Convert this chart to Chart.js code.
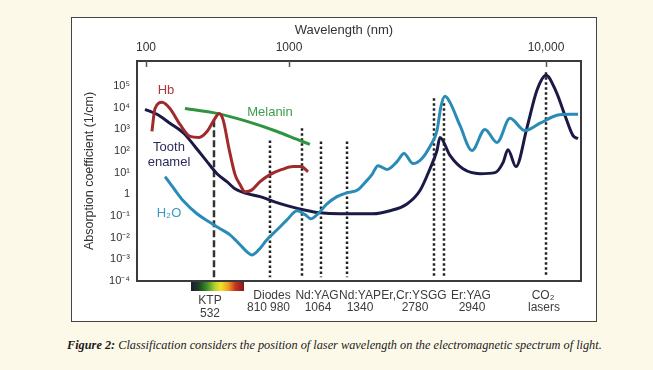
<!DOCTYPE html>
<html>
<head>
<meta charset="utf-8">
<script src="https://cdn.jsdelivr.net/npm/chart.js@4/dist/chart.umd.min.js"></script>
<style>
html,body{margin:0;padding:0;background:#fdf9e9;width:653px;height:370px;overflow:hidden;}
#panel{position:absolute;left:71px;top:17px;width:524px;height:303px;border:1px solid #444;background:#fff;}
#panel canvas{display:block;}
#caption{position:absolute;left:67px;top:338px;font:italic 12.3px "Liberation Serif",serif;color:#1a1a1a;white-space:nowrap;}
</style>
</head>
<body>
<div id="panel"><canvas id="c" width="524" height="303"></canvas></div>
<div id="caption"><b>Figure 2:</b> Classification considers the position of laser wavelength on the electromagnetic spectrum of light.</div>
<script>
// ---------------- data (wavelength in nm, absorption coefficient in 1/cm) ----------------
const hbWavelength = [120, 132, 164, 209, 285, 388, 442, 488, 537, 557, 578, 610, 645, 675, 704, 732, 766, 810, 870, 930, 975, 1006];
const hbAbs        = [8e2, 9.1e3, 1.74e4, 9.1e3, 1.66e3, 4.7e2, 4.2e2, 7.9e2, 3.2e3, 5.4e3, 2.8e3, 1.3e2, 8.1, 2.8, 1.3, 1.6, 3.8, 8.1, 14, 19, 19, 11];

const melaninWavelength = [332, 547, 712, 845, 952, 1014];
const melaninAbs        = [9.1e3, 5.4e3, 2.3e3, 7.9e2, 3.4e2, 2.0e2];

const enamelWavelength = [97, 140, 209, 322, 420, 488, 547, 599, 644, 712, 766, 829, 896, 984, 1059, 1259, 1666, 1922, 2216, 2472, 2687, 2827, 2875, 3170, 3733, 4623, 5582, 6175, 6572, 7263, 8347, 9459, 10600, 11922, 13410, 14560, 15440];
const enamelAbs        = [8.3e3, 4.9e3, 1.9e3, 6.4e2, 1.6e2, 32, 8.9, 3.8, 1.8, 1.07, 0.78, 0.46, 0.30, 0.195, 0.14, 0.126, 0.126, 0.174, 0.36, 1.5, 15, 105, 420, 62, 15, 8.9, 10, 29, 115, 19, 1.2e3, 6.3e4, 3.1e5, 5.6e4, 3.2e3, 5.1e2, 3.7e2];

const waterWavelength = [180, 237, 322, 431, 500, 562, 616, 675, 712, 732, 761, 796, 845, 896, 952, 993, 1019, 1050, 1122, 1226, 1340, 1469, 1559, 1652, 1738, 1874, 2038, 2161, 2331, 2514, 2687, 2827, 2891, 2977, 3170, 3594, 4181, 4920, 5725, 6738, 8140, 9828, 12064, 14059, 15440];
const waterAbs        = [6.5, 1.8, 0.46, 0.126, 0.054, 0.026, 0.0135, 0.0047, 0.0022, 0.0016, 0.0028, 0.0080, 0.023, 0.066, 0.174, 0.115, 0.074, 0.126, 0.36, 0.78, 1.17, 1.6, 3.5, 8.1, 21, 14, 32, 76, 26, 45, 160, 870, 1.15e4, 3.3e4, 1.74e4, 1.5e3, 105, 980, 245, 3.2e3, 870, 1.9e3, 4.4e3, 4.9e3, 4.9e3];

const laserWavelength = [532, 810, 980, 1064, 1340, 2780, 2940, 10600];
const laserTop        = [2.6e3, 3.0e2, 1.1e3, 2.7e2, 2.7e2, 2.7e4, 1.6e4, 4.3e5];
const laserBottom     = [1e-4, 1.5e-4, 1.5e-4, 1.5e-4, 1.5e-4, 1.5e-4, 1.5e-4, 1.5e-4];

const spectrumBand = [400, 700];

const yTickValues = [1e-4, 1e-3, 1e-2, 1e-1, 1, 1e1, 1e2, 1e3, 1e4, 1e5];
const yTickLabels = ['10\u207B\u2074', '10\u207B\u00B3', '10\u207B\u00B2', '10\u207B\u00B9', '1', '10\u00B9', '10\u00B2', '10\u00B3', '10\u2074', '10\u2075'];
const topTickValues = [100, 1000, 10000];
const topTickLabels = ['100', '1000', '10,000'];

const curveLabelText = ['Hb', 'Melanin', 'Tooth', 'enamel', 'H\u2082O'];
const curveLabelNm   = [185, 810, 203, 203, 203];
const curveLabelAbs  = [6.3e4, 6.0e3, 145, 29, 0.126];

const laserNameText = ['KTP', 'Diodes', 'Nd:YAG', 'Nd:YAP', 'Er,Cr:YSGG', 'Er:YAG', 'CO\u2082'];
const laserNameNm   = [532, 810, 1064, 1340, 2780, 2940, 10600];
const laserCodeText = ['532', '810', '980', '1064', '1340', '2780', '2940', 'lasers'];
const laserCodeNm   = [532, 810, 980, 1064, 1340, 2780, 2940, 10600];

// ---------------- layout / style ----------------
const dataAxisKnots = [[76, 0], [100, 0.0203], [400, 0.1216], [532, 0.1734], [700, 0.2410], [810, 0.2995], [980, 0.3716], [1064, 0.4144], [1340, 0.4730], [2780, 0.6689], [2940, 0.6914], [10600, 0.9212], [16000, 1]];
const topAxisKnots  = [[86.5, 0], [100, 0.0203], [1000, 0.3423], [10000, 0.9212], [13680, 1]];
const curveLabelColor = ['#b03838', '#3d9c4c', '#2b2b5a', '#2b2b5a', '#3a98c4'];
const laserNameDx = [-4, 2, -4, 13, -20, 27, -3];
const laserNameDy = [20, 15, 15, 15, 15, 15, 15];
const laserCodeDx = [-4, -13, -22, -3, 13, -19, 28, -2];
const laserCodeDy = [33, 27, 27, 27, 27, 27, 27, 27];
const spectrumStops = [[0, '#1d1b3a'], [0.14, '#1f3d1f'], [0.3, '#3c8f2c'], [0.45, '#b4cf33'], [0.56, '#f2e227'], [0.7, '#eea024'], [0.84, '#c8331f'], [1, '#7e1a1c']];

// ---------------- schematic wavelength scale ----------------
class SchematicScale extends Chart.LogarithmicScale {
  static id = 'schematic';
  static defaults = { ticks: { callback: (v) => String(v) } };
  buildTicks() {
    return (this.options.tickValues || []).map(v => ({ value: v }));
  }
  _frac(value) {
    const k = this.options.knots;
    const lv = Math.log10(value);
    let i = 0;
    while (i < k.length - 2 && lv > Math.log10(k[i + 1][0])) i++;
    const a = Math.log10(k[i][0]), b = Math.log10(k[i + 1][0]);
    return k[i][1] + (lv - a) / (b - a) * (k[i + 1][1] - k[i][1]);
  }
  getPixelForValue(value) {
    if (value === undefined || value === null || !(value > 0)) value = this.min;
    return this.getPixelForDecimal(this._frac(value));
  }
  getValueForPixel(pixel) {
    const f = this.getDecimalForPixel(pixel);
    const k = this.options.knots;
    let i = 0;
    while (i < k.length - 2 && f > k[i + 1][1]) i++;
    const a = Math.log10(k[i][0]), b = Math.log10(k[i + 1][0]);
    return Math.pow(10, a + (f - k[i][1]) / (k[i + 1][1] - k[i][1]) * (b - a));
  }
}
Chart.register(SchematicScale);

const zip = (xs, ys) => xs.map((x, i) => ({ x: x, y: ys[i] }));

const curve = (label, xs, ys, color) => ({
  label: label, data: zip(xs, ys), borderColor: color, borderWidth: 3,
  pointRadius: 0, fill: false, cubicInterpolationMode: 'monotone'
});

const datasets = [
  curve('Hb', hbWavelength, hbAbs, '#a02a2c'),
  curve('Melanin', melaninWavelength, melaninAbs, '#2f9440'),
  curve('H2O', waterWavelength, waterAbs, '#2a8cb6'),
  curve('Tooth enamel', enamelWavelength, enamelAbs, '#1b1a46')
];
laserWavelength.forEach((w, i) => {
  const ktp = i === 0;
  datasets.push({
    label: 'laser ' + w,
    data: [{ x: w, y: laserTop[i] }, { x: w, y: laserBottom[i] }],
    borderColor: ktp ? '#333' : '#222',
    borderWidth: 2.5,
    borderDash: ktp ? [7, 3] : [2.5, 2.5],
    borderCapStyle: 'butt',
    pointRadius: 0, fill: false
  });
});

const FONT = '"Liberation Sans", Arial, sans-serif';

const decor = {
  id: 'decor',
  afterDatasetsDraw(chart) {
    const { ctx, chartArea: a, scales } = chart;
    const x = scales.x, y = scales.y, xt = scales.xTop;
    ctx.save();
    // visible-spectrum colour bar under KTP
    const x0 = x.getPixelForValue(spectrumBand[0]), x1 = x.getPixelForValue(spectrumBand[1]);
    const g = ctx.createLinearGradient(x0, 0, x1, 0);
    spectrumStops.forEach(s => g.addColorStop(s[0], s[1]));
    ctx.fillStyle = g;
    ctx.fillRect(x0, a.bottom + 1, x1 - x0, 9);
    // frame
    ctx.strokeStyle = '#3a3a3a';
    ctx.lineWidth = 2;
    ctx.strokeRect(a.left, a.top, a.width, a.height);
    // inner tick marks of the top axis
    ctx.lineWidth = 1.5;
    ctx.strokeStyle = '#555';
    xt.ticks.forEach(t => {
      const px = Math.round(xt.getPixelForValue(t.value)) + 0.5;
      ctx.beginPath(); ctx.moveTo(px, a.top); ctx.lineTo(px, a.top + 6); ctx.stroke();
    });
    // axis title (top)
    ctx.textAlign = 'center';
    ctx.textBaseline = 'middle';
    ctx.fillStyle = '#333';
    ctx.font = '13px ' + FONT;
    ctx.fillText('Wavelength (nm)', a.left + a.width * 0.466, 12);
    // curve labels
    ctx.font = '13px ' + FONT;
    curveLabelText.forEach((t, i) => {
      ctx.fillStyle = curveLabelColor[i];
      ctx.fillText(t, x.getPixelForValue(curveLabelNm[i]), y.getPixelForValue(curveLabelAbs[i]));
    });
    // laser names and wavelengths
    ctx.fillStyle = '#3c3c3c';
    ctx.font = '12px ' + FONT;
    laserNameText.forEach((t, i) => {
      ctx.fillText(t, x.getPixelForValue(laserNameNm[i]) + laserNameDx[i], a.bottom + laserNameDy[i]);
    });
    laserCodeText.forEach((t, i) => {
      ctx.fillText(t, x.getPixelForValue(laserCodeNm[i]) + laserCodeDx[i], a.bottom + laserCodeDy[i]);
    });
    ctx.restore();
  }
};

new Chart(document.getElementById('c'), {
  type: 'line',
  data: { datasets: datasets },
  plugins: [decor],
  options: {
    responsive: false,
    animation: false,
    devicePixelRatio: 1,
    layout: { padding: { top: 0, left: 0, right: 15, bottom: 40 } },
    plugins: { legend: { display: false }, tooltip: { enabled: false } },
    scales: {
      x: {
        type: 'schematic', position: 'bottom', display: false,
        min: 76, max: 16000, knots: dataAxisKnots, tickValues: topTickValues
      },
      xTop: {
        type: 'schematic', position: 'top', axis: 'x',
        min: 86.5, max: 13680, knots: topAxisKnots, tickValues: topTickValues,
        grid: { display: false, drawTicks: false },
        border: { display: false },
        ticks: {
          autoSkip: false, maxRotation: 0, padding: 6, color: '#333',
          font: { family: FONT, size: 12 },
          callback: (v) => topTickLabels[topTickValues.indexOf(v)]
        },
        afterFit: (s) => { s.height = 43; }
      },
      y: {
        type: 'logarithmic', min: 1e-4, max: 1.41e6,
        grid: { display: false, drawTicks: false },
        border: { display: false },
        afterBuildTicks: (s) => { s.ticks = yTickValues.map(v => ({ value: v })); },
        ticks: {
          autoSkip: false, padding: 7, color: '#333',
          font: { family: FONT, size: 11 },
          callback: (v) => { const i = yTickValues.indexOf(v); return i >= 0 ? yTickLabels[i] : ''; }
        },
        title: {
          display: true, text: 'Absorption coefficient (1/cm)', color: '#333',
          font: { family: FONT, size: 12.5 }, padding: { top: 10, bottom: 0 }
        },
        afterFit: (s) => { s.width = 65; }
      }
    }
  }
});
</script>
</body>
</html>
